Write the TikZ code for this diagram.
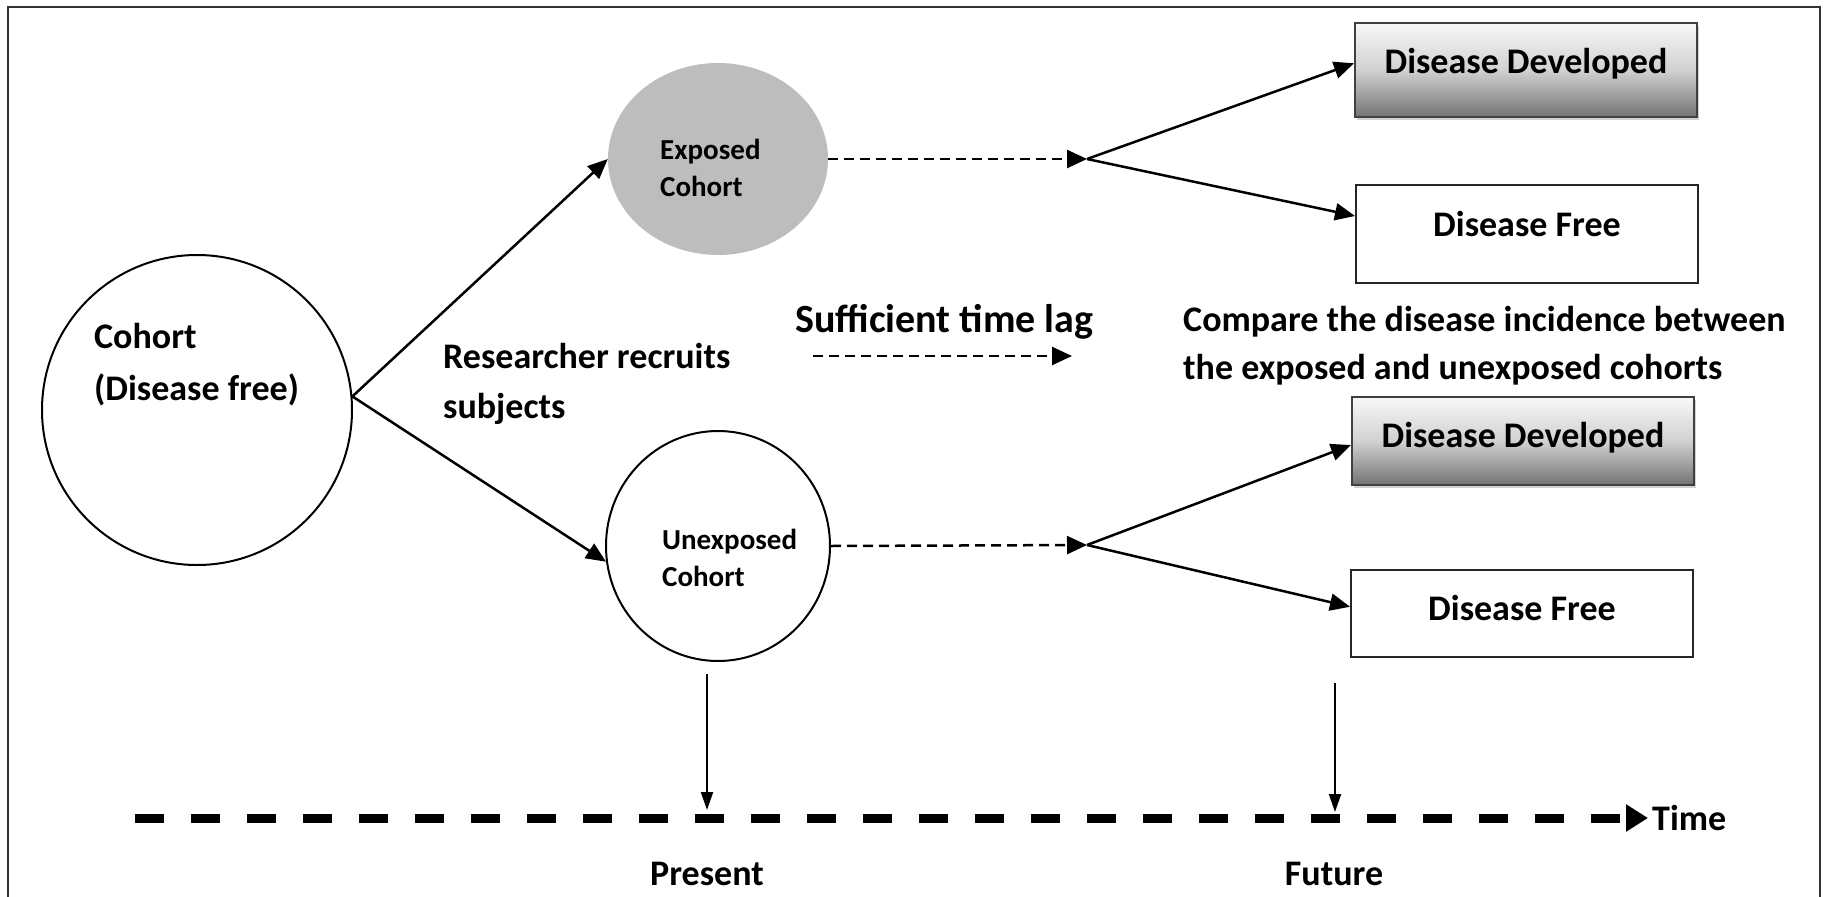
\documentclass[tikz,border=0pt]{standalone}
\usepackage{fontspec}
\setmainfont{Carlito}
\usetikzlibrary{arrows.meta,shadows,calc,shapes.geometric}
\begin{document}
\begin{tikzpicture}[x=1pt,y=-1pt,
  lbl/.style={inner sep=0pt, anchor=base west, font=\bfseries\fontsize{36}{42}\selectfont},
  biglbl/.style={inner sep=0pt, anchor=base west, font=\bfseries\fontsize{40}{46}\selectfont},
  smalllbl/.style={inner sep=0pt, anchor=base west, font=\bfseries\fontsize{29}{34}\selectfont},
  ctrlbl/.style={inner sep=0pt, anchor=base, font=\bfseries\fontsize{36}{42}\selectfont},
  conn/.style={line width=2.5pt, -{Triangle[length=20pt,width=17pt]}},
  dconn/.style={line width=2.5pt, dash pattern=on 10pt off 6pt, -{Triangle[length=20pt,width=18pt]}},
  vconn/.style={line width=2pt, -{Triangle[length=18pt,width=12pt]}},
  graybox/.style={draw=black!75, line width=2pt, rectangle, minimum width=342pt,
    top color=black!3, bottom color=black!55, middle color=black!18,
    drop shadow={shadow xshift=2pt, shadow yshift=-3pt, opacity=0.35}},
  whitebox/.style={draw=black!85, line width=2pt, rectangle, fill=white, minimum width=342pt}
]
\useasboundingbox (0,0) rectangle (1837,897);
\fill[white] (0,0) rectangle (1837,897);
\draw[line width=2pt, black!80] (8,897) -- (8,7) -- (1820,7) -- (1820,897);

% circles
\node[draw, circle, line width=2pt, minimum size=310pt, inner sep=0pt] (cohort) at (197,410) {};
\node[ellipse, fill=black!26, minimum width=220pt, minimum height=192pt, inner sep=0pt] (exp) at (718,159) {};
\node[draw, ellipse, line width=2pt, minimum width=224pt, minimum height=230pt, inner sep=0pt] (unexp) at (718,546) {};

\node[lbl] (t1) at (94,348) {Cohort};
\node[lbl] (t2) at (94,400) {(Disease free)};
\node[smalllbl] (t3) at (660,159) {Exposed};
\node[smalllbl] (t4) at (660,196) {Cohort};
\node[smalllbl] (t5) at (662,549) {Unexposed};
\node[smalllbl] (t6) at (662,586) {Cohort};
\node[lbl] (t7) at (443,368) {Researcher recruits};
\node[lbl] (t8) at (443,418) {subjects};
\node[biglbl] (t9) at (795,332) {Sufficient time lag};
\node[lbl] (t10) at (1183,331) {Compare the disease incidence between};
\node[lbl] (t11) at (1183,379) {the exposed and unexposed cohorts};

% boxes
\node[graybox, minimum height=94pt] (dd1) at (1526,70) {};
\node[ctrlbl] at (1526,73) {Disease Developed};
\node[whitebox, minimum height=98pt] (df1) at (1527,234) {};
\node[ctrlbl] at (1527,236) {Disease Free};
\node[graybox, minimum height=88pt] (dd2) at (1523,441) {};
\node[ctrlbl] at (1523,447) {Disease Developed};
\node[whitebox, minimum height=87pt] (df2) at (1522,613) {};
\node[ctrlbl] at (1522,620) {Disease Free};

% connectors
\draw[conn] (cohort.5) -- (exp.west);
\draw[conn] (cohort.5) -- (unexp.188);
\coordinate (j1) at (1087,159);
\coordinate (j2) at (1087,545);
\draw[dconn] (exp.east) -- (j1);
\draw[dconn] (unexp.east) -- (j2);
\draw[conn] (j1) -- ($(dd1.north west)!0.43!(dd1.south west)$);
\draw[conn] (j1) -- ($(df1.north west)!0.32!(df1.south west)$);
\draw[conn] (j2) -- ($(dd2.north west)!0.545!(dd2.south west)$);
\draw[conn] (j2) -- ($(df2.north west)!0.43!(df2.south west)$);

\coordinate (la) at (813,356);
\coordinate (lb) at (1072,356);
\draw[dconn] (la) -- (lb);

% timeline
\coordinate (ts) at (135,818);
\coordinate (te) at (1648,818);
\draw[line width=9pt, dash pattern=on 29pt off 27pt, -{Triangle[length=22pt,width=26pt]}] (ts) -- (te);
\node[lbl, anchor=west] (time) at (1652,818) {Time};
\coordinate (pa) at (707,674);
\coordinate (pb) at (707,810);
\coordinate (fa) at (1335,683);
\coordinate (fb) at (1335,812);
\draw[vconn] (pa) -- (pb);
\draw[vconn] (fa) -- (fb);
\node[ctrlbl] (present) at (707,885) {Present};
\node[ctrlbl] (future) at (1334,885) {Future};
\end{tikzpicture}
\end{document}
